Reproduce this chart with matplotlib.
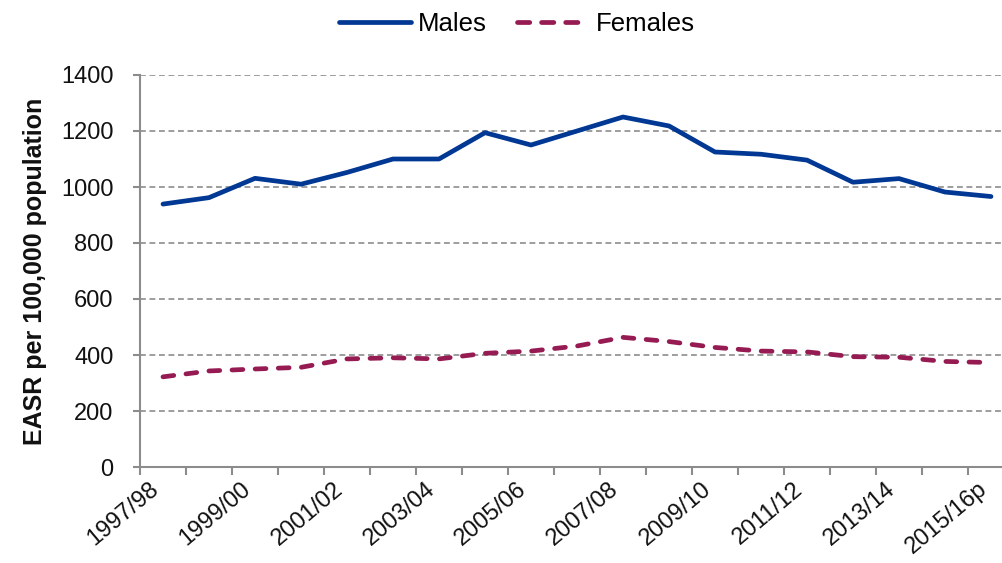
import matplotlib
matplotlib.use("Agg")
import matplotlib.pyplot as plt
from matplotlib.lines import Line2D
import numpy as np

categories = ["1997/98", "1998/99", "1999/00", "2000/01", "2001/02", "2002/03",
              "2003/04", "2004/05", "2005/06", "2006/07", "2007/08", "2008/09",
              "2009/10", "2010/11", "2011/12", "2012/13", "2013/14", "2014/15",
              "2015/16p"]
males = [939, 962, 1031, 1010, 1052, 1100, 1100, 1194, 1150, 1200, 1250,
         1218, 1125, 1117, 1096, 1017, 1030, 982, 966]
females = [322, 343, 350, 356, 386, 390, 386, 406, 414, 432, 463, 448,
           427, 414, 411, 394, 392, 377, 373]
yticks = [0, 200, 400, 600, 800, 1000, 1200, 1400]

plt.rcParams['font.family'] = ['Liberation Sans', 'DejaVu Sans']

W, H = 1002, 563
fig = plt.figure(figsize=(W / 100, H / 100), dpi=100)
left, right = 140, 140 + 19 * 46
top, bottom = 75, 467
ax = fig.add_axes([left / W, 1 - bottom / H, (right - left) / W, (bottom - top) / H])

male_color = '#003893'
female_color = '#961B52'
x = np.arange(len(categories))
ax.plot(x, males, color=male_color, lw=3.4, solid_capstyle='round',
        solid_joinstyle='round', clip_on=False)
ax.plot(x, females, color=female_color, lw=3.4, dashes=(2.3, 2.6),
        dash_capstyle='round', clip_on=False)

ax.set_xlim(-0.5, len(categories) - 0.5)
ax.set_ylim(0, 1400)
ax.set_yticks(yticks)
ax.set_yticklabels([str(v) for v in yticks], fontsize=17, color='#111111')
ax.grid(axis='y', color='#8c8c8c', linestyle=(0, (3.5, 2.2)), lw=1.2)
ax.set_axisbelow(True)

ax.set_xticks(x[::2])
ax.set_xticklabels(categories[::2], rotation=40, ha='right', va='top',
                   fontsize=17, color='#111111')
ax.set_xticks(np.arange(len(categories)) - 0.5, minor=True)
ax.tick_params(axis='x', which='major', length=0, pad=8)
ax.tick_params(axis='x', which='minor', length=6, width=1.5, color='#8c8c8c', direction='out')
ax.tick_params(axis='y', length=5, width=1.5, color='#8c8c8c', pad=14)

for s in ['top', 'right']:
    ax.spines[s].set_visible(False)
for s in ['left', 'bottom']:
    ax.spines[s].set_color('#8c8c8c')
    ax.spines[s].set_linewidth(1.5)

ax.set_ylabel('EASR per 100,000 population', fontsize=18, fontweight='bold',
              color='#111111', labelpad=10)

handles = [
    Line2D([], [], color=male_color, lw=3.4, solid_capstyle='round'),
    Line2D([], [], color=female_color, lw=3.4, dashes=(2.6, 2.5), dash_capstyle='round'),
]
fig.legend(handles, ['Males', 'Females'], loc='center',
           bbox_to_anchor=(517 / W, 1 - 24 / H), ncol=2,
           frameon=False, fontsize=18.5, handlelength=2.8, columnspacing=1.2,
           handletextpad=0.25)

fig.savefig('out.png', dpi=100)
